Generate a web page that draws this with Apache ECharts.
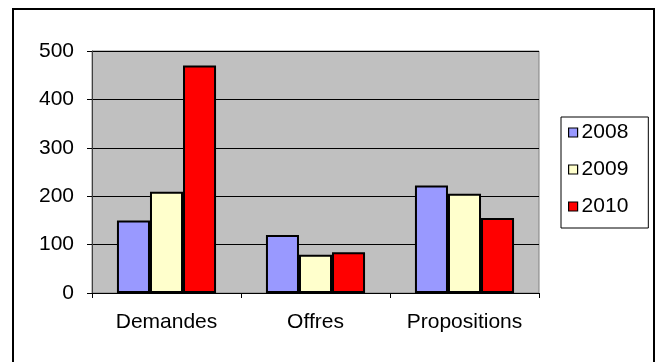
<!DOCTYPE html>
<html>
<head>
<meta charset="utf-8">
<script src="https://cdn.jsdelivr.net/npm/echarts@6/dist/echarts.min.js"></script>
<style>
  html, body { margin: 0; padding: 0; background: #fff; }
  #chart { width: 661px; height: 362px; }
</style>
</head>
<body>
<div id="chart"></div>
<script>
const categories = ['Demandes', 'Offres', 'Propositions'];
const seriesNames = ['2008', '2009', '2010'];
const values2008 = [150, 120, 222];
const values2009 = [209, 79, 205];
const values2010 = [470, 84, 155];
const yTicks = [0, 100, 200, 300, 400, 500];
const colors = ['#9999FF', '#FFFFCC', '#FF0000'];

const allValues = [values2008, values2009, values2010];
const chart = echarts.init(document.getElementById('chart'));
const font = 'Liberation Sans, Arial, sans-serif';

chart.setOption({
  animation: false,
  backgroundColor: '#ffffff',
  textStyle: { fontFamily: font },
  graphic: [{
    type: 'rect',
    shape: { x: 13, y: 9, width: 641, height: 370 },
    style: { fill: 'none', stroke: '#000', lineWidth: 2 },
    silent: true,
    z: -1
  }],
  grid: {
    left: 92, right: 122, top: 51, bottom: 69,
    show: true,
    backgroundColor: '#C0C0C0',
    borderColor: '#808080',
    borderWidth: 1
  },
  legend: {
    orient: 'vertical',
    left: 561,
    top: 117,
    data: seriesNames,
    icon: 'rect',
    itemWidth: 9,
    itemHeight: 9,
    itemGap: 16,
    padding: [5, 20, 11, 7],
    borderColor: '#000',
    borderWidth: 1,
    backgroundColor: '#fff',
    itemStyle: { borderColor: '#000', borderWidth: 1.2 },
    textStyle: { fontFamily: font, fontSize: 21, color: '#000', padding: [0, 0, 0, -1] }
  },
  xAxis: {
    type: 'category',
    data: categories,
    axisLine: { show: true, lineStyle: { color: '#000', width: 1 } },
    axisTick: { show: true, length: 5, alignWithLabel: false, lineStyle: { color: '#000' } },
    axisLabel: { fontFamily: font, fontSize: 21, color: '#000', margin: 19, interval: 0, hideOverlap: false },
    splitLine: { show: false }
  },
  yAxis: {
    type: 'value',
    min: yTicks[0],
    max: yTicks[yTicks.length - 1],
    interval: yTicks[1] - yTicks[0],
    axisLine: { show: true, lineStyle: { color: '#404040', width: 1 } },
    axisTick: { show: true, length: 5, lineStyle: { color: '#000' } },
    axisLabel: { fontFamily: font, fontSize: 21, color: '#000', margin: 18 },
    splitLine: { show: true, lineStyle: { color: '#000', width: 1 } }
  },
  series: seriesNames.map((name, i) => ({
    name: name,
    type: 'bar',
    data: allValues[i],
    barGap: '0%',
    barCategoryGap: '33.5%',
    itemStyle: { color: colors[i], borderColor: '#000', borderWidth: 2 }
  }))
});
</script>
</body>
</html>
